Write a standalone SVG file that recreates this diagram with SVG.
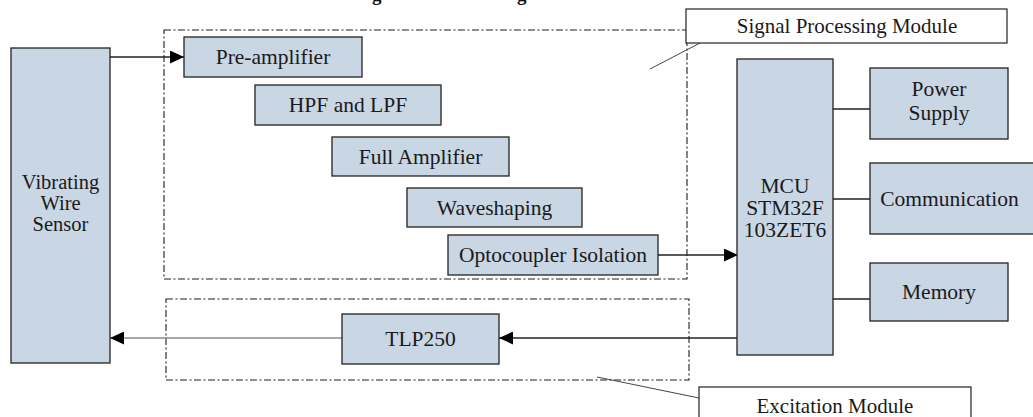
<svg xmlns="http://www.w3.org/2000/svg" width="1033" height="417" viewBox="0 0 1033 417">
  <style>
    .blk { fill: #c9d6e4; stroke: #222; stroke-width: 1.3; }
    .lbl { fill: #fff; stroke: #222; stroke-width: 1.2; }
    .grp { fill: none; stroke: #1e1e1e; stroke-width: 1.1; stroke-dasharray: 7 2.5 2 2.5; }
    .txt { font-size: 21.5px; fill: #1a1a1a; text-anchor: middle; }
    .cap { font-size: 21px; fill: #1a1a1a; text-anchor: middle; }
    .ttl { font-size: 19px; font-weight: bold; fill: #111; }
    .wire { fill: none; stroke: #222; stroke-width: 1.3; }
    .lead { fill: none; stroke: #444; stroke-width: 1; }
  </style>
  <defs>
    <marker id="arrow" markerWidth="14" markerHeight="13" refX="14" refY="6.5" orient="auto" markerUnits="userSpaceOnUse">
      <path d="M0,0 L14,6.5 L0,13 Z" fill="#000"/>
    </marker>
  </defs>

  <rect width="1033" height="417" fill="#fff"/>

  <g font-family="'Liberation Serif', 'DejaVu Serif', serif">
  <!-- title line, only its descenders fall inside the frame -->
  <g id="title">
    <text class="ttl" x="372" y="0.5">g</text>
    <text class="ttl" x="517" y="0.5">g</text>
  </g>

  <!-- module outlines -->
  <g id="signal-processing-module">
    <rect class="grp" x="164" y="30" width="523" height="249"/>
    <line class="lead" x1="700" y1="43" x2="650" y2="69"/>
    <rect class="lbl" x="686" y="9" width="321" height="34"/>
    <text class="cap" x="847" y="33">Signal Processing Module</text>
  </g>
  <g id="excitation-module">
    <rect class="grp" x="166" y="299" width="523" height="81"/>
    <line class="lead" x1="699" y1="398" x2="597" y2="377"/>
    <rect class="lbl" x="699" y="387" width="272" height="40"/>
    <text class="cap" x="835" y="413">Excitation Module</text>
  </g>

  <!-- connectors -->
  <g id="connectors">
    <line class="wire" x1="110" y1="57" x2="184" y2="57" marker-end="url(#arrow)"/>
    <line class="wire" x1="658" y1="255" x2="738" y2="255" marker-end="url(#arrow)"/>
    <line class="wire" x1="737" y1="338" x2="499" y2="338" marker-end="url(#arrow)"/>
    <line class="wire" x1="342" y1="338" x2="110" y2="338" style="stroke:#8a8a8a" marker-end="url(#arrow)"/>
    <line class="wire" x1="833" y1="109" x2="870" y2="109"/>
    <line class="wire" x1="833" y1="199" x2="870" y2="199"/>
    <line class="wire" x1="833" y1="299" x2="870" y2="299"/>
  </g>

  <g id="sensor">
    <rect class="blk" x="11" y="48" width="99" height="315"/>
    <text class="txt" x="60.5" y="189" style="font-size:20.5px">Vibrating</text>
    <text class="txt" x="60.5" y="210" style="font-size:20.5px">Wire</text>
    <text class="txt" x="60.5" y="231" style="font-size:20.5px">Sensor</text>
  </g>

  <g id="pre-amplifier">
    <rect class="blk" x="184" y="37" width="178" height="40"/>
    <text class="txt" x="273" y="64">Pre-amplifier</text>
  </g>

  <g id="filters">
    <rect class="blk" x="255" y="85" width="186" height="40"/>
    <text class="txt" x="348" y="112">HPF and LPF</text>
  </g>

  <g id="full-amplifier">
    <rect class="blk" x="332" y="137" width="177" height="39"/>
    <text class="txt" x="420.5" y="164">Full Amplifier</text>
  </g>

  <g id="waveshaping">
    <rect class="blk" x="407" y="188" width="175" height="39"/>
    <text class="txt" x="494.5" y="215">Waveshaping</text>
  </g>

  <g id="optocoupler">
    <rect class="blk" x="448" y="235" width="210" height="40"/>
    <text class="txt" x="553" y="262">Optocoupler Isolation</text>
  </g>

  <g id="tlp250">
    <rect class="blk" x="342" y="314" width="157" height="50"/>
    <text class="txt" x="420.5" y="346">TLP250</text>
  </g>

  <g id="mcu">
    <rect class="blk" x="737" y="59" width="96" height="296"/>
    <text class="txt" x="785" y="193">MCU</text>
    <text class="txt" x="785" y="215">STM32F</text>
    <text class="txt" x="785" y="237">103ZET6</text>
  </g>

  <g id="power-supply">
    <rect class="blk" x="870" y="68" width="138" height="71"/>
    <text class="txt" x="939" y="96">Power</text>
    <text class="txt" x="939" y="120">Supply</text>
  </g>

  <g id="communication">
    <rect class="blk" x="870" y="163" width="170" height="71"/>
    <text class="txt" x="949.5" y="206">Communication</text>
  </g>

  <g id="memory">
    <rect class="blk" x="870" y="263" width="138" height="58"/>
    <text class="txt" x="939" y="299">Memory</text>
  </g>
  </g>
</svg>
